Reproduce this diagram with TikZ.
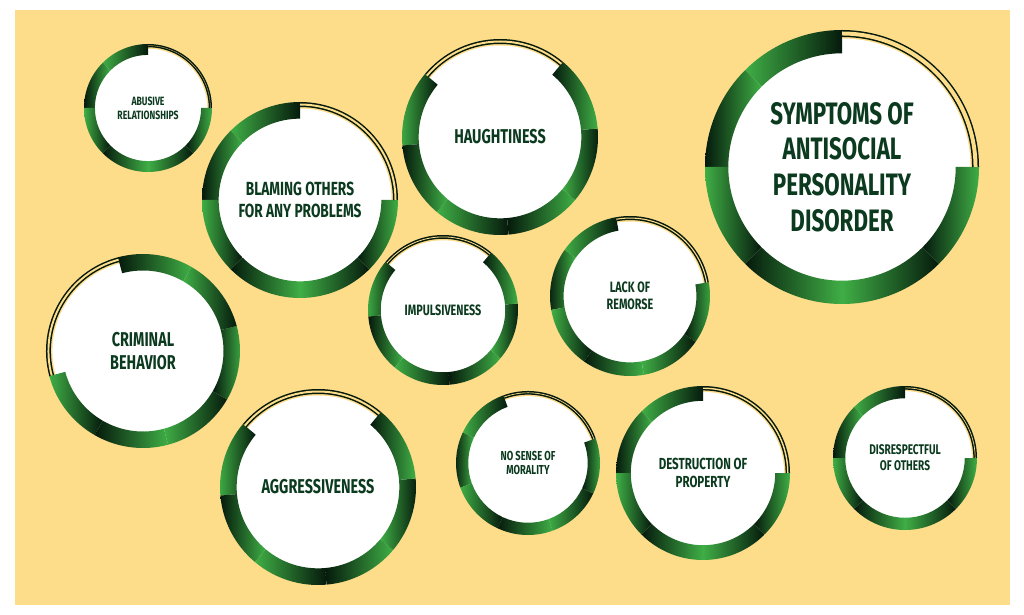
\documentclass[tikz,border=0pt]{standalone}
\usepackage{fontspec}
\setmainfont[FakeStretch=0.72]{Fira Sans}
\definecolor{bg}{HTML}{FDDC8A}
\definecolor{gg}{HTML}{3FAE45}
\definecolor{dk}{HTML}{051A0C}
\definecolor{tx}{HTML}{0B3A1E}
\newcommand{\myring}[7]{% name cx cy r gapstart fontsize text
  \pgfmathsetmacro{\rr}{#4}\pgfmathsetmacro{\ww}{0.17*#4}\pgfmathsetmacro{\ri}{#4-0.17*#4}
  \pgfmathsetmacro{\tw}{0.3*\ww}\pgfmathsetmacro{\tww}{0.3*\ww-3}
  \pgfmathsetmacro{\rw}{\rr-\tw-1.5}
  \pgfmathsetmacro{\bl}{#6*1.15}
  \coordinate (#1c) at (#2,614-#3);
  \fill[white] (#1c) circle[radius=\rw];
  \foreach \k in {0,...,5}{
    \pgfmathsetmacro{\a}{#5+90+45*\k}\pgfmathsetmacro{\b}{\a+45}
    \pgfmathtruncatemacro{\odd}{mod(\k,2)}
    \ifnum\odd=0 \tikzset{segsh/.style={left color=gg,right color=dk}}\else\tikzset{segsh/.style={left color=dk,right color=gg}}\fi
    \shade[segsh] ([shift={(\a:\rr)}]#1c) arc[start angle=\a,end angle=\b,radius=\rr]
      -- ([shift={(\b:\ri)}]#1c) arc[start angle=\b,end angle=\a,radius=\ri] -- cycle;
  }
  \pgfmathsetmacro{\rm}{\rr-0.5*\tw}
  \draw[dk,line width=\tw pt] ([shift={(#5:\rm)}]#1c) arc[start angle=#5,end angle=#5+90,radius=\rm];
  \draw[bg,line width=\tww pt] ([shift={(#5:\rm)}]#1c) arc[start angle=#5,end angle=#5+90,radius=\rm];
  \node[text=tx,align=center,font=\fontsize{#6pt}{\bl pt}\selectfont\bfseries] (#1) at (#1c) {#7};
}
\begin{document}
\begin{tikzpicture}[x=1pt,y=1pt]
\useasboundingbox (0,0) rectangle (1024,614);
\fill[white] (0,0) rectangle (1024,614);
\fill[bg] (15,9) rectangle (1010,604);
\myring{a}{148}{108}{64}{0}{12}{ABUSIVE\\RELATIONSHIPS}
\myring{b}{300}{200}{98}{0}{19}{BLAMING OTHERS\\FOR ANY PROBLEMS}
\myring{c}{500}{137}{98}{50}{20}{HAUGHTINESS}
\myring{d}{842}{167}{137}{0}{31}{SYMPTOMS OF\\ANTISOCIAL\\PERSONALITY\\DISORDER}
\myring{e}{143}{351}{97}{105}{20}{CRIMINAL\\BEHAVIOR}
\myring{f}{443}{310}{75}{50}{15}{IMPULSIVENESS}
\myring{g}{630}{296}{80}{10}{15}{LACK OF\\REMORSE}
\myring{h}{318}{487}{98}{50}{20}{AGGRESSIVENESS}
\myring{i}{528}{463}{72}{20}{13}{NO SENSE OF\\MORALITY}
\myring{j}{703}{473}{87}{0}{16}{DESTRUCTION OF\\PROPERTY}
\myring{k}{905}{458}{72}{0}{14}{DISRESPECTFUL\\OF OTHERS}
\end{tikzpicture}
\end{document}
